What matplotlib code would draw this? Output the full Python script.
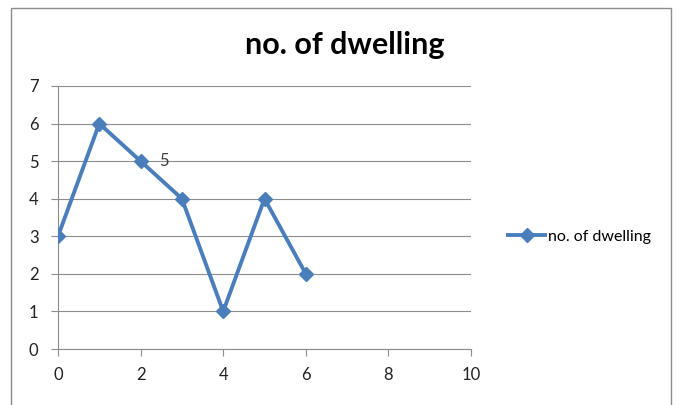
import matplotlib.pyplot as plt
import matplotlib.patches as patches

# data
x_vals = [0, 1, 2, 3, 4, 5, 6]
dwellings = [3, 6, 5, 4, 1, 4, 2]
series_name = 'no. of dwelling'
x_ticks = [0, 2, 4, 6, 8, 10]
y_ticks = [0, 1, 2, 3, 4, 5, 6, 7]

plt.rcParams['font.family'] = ['Lato', 'DejaVu Sans']

fig = plt.figure(figsize=(6.81, 4.05), dpi=100)
ax = fig.add_axes([58 / 681, 1 - 349 / 405, 413 / 681, 263 / 405])

line_col = '#4A7EBB'
ax.plot(x_vals, dwellings, color=line_col, lw=2.8, marker='D', ms=7,
        label=series_name, zorder=3)

# single data label on the third point
ax.annotate(str(dwellings[2]), (x_vals[2], dwellings[2]), xytext=(13, 0),
            textcoords='offset points', va='center', ha='left', fontsize=12,
            color='#404040')

ax.set_xlim(0, 10)
ax.set_ylim(0, 7)
ax.set_xticks(x_ticks)
ax.set_yticks(y_ticks)
ax.yaxis.grid(True, color='#8c8c8c', lw=0.8)
ax.set_axisbelow(True)
for s in ['top', 'right']:
    ax.spines[s].set_visible(False)
for s in ['left', 'bottom']:
    ax.spines[s].set_color('#8c8c8c')
ax.tick_params(colors='#8c8c8c', labelcolor='#222222', labelsize=12,
               length=5, direction='out')
ax.tick_params(axis='x', pad=8)
ax.tick_params(axis='y', pad=9)

fig.text(345 / 681, 1 - 45 / 405, 'no. of dwelling', ha='center', va='center',
         fontsize=22, fontweight='bold')

fig.legend(loc='center left', bbox_to_anchor=(494 / 681, 1 - 237 / 405),
           frameon=False, fontsize=11.5, handlelength=2.3, handletextpad=0.2)

# outer chart border (bottom runs off the image)
fig.patches.append(patches.Rectangle((11 / 681, -0.05), 660 / 681, 1.05 - 8 / 405,
                                     transform=fig.transFigure, fill=False,
                                     edgecolor='#8c8c8c', lw=1.0))

fig.savefig('out.png', dpi=100)
